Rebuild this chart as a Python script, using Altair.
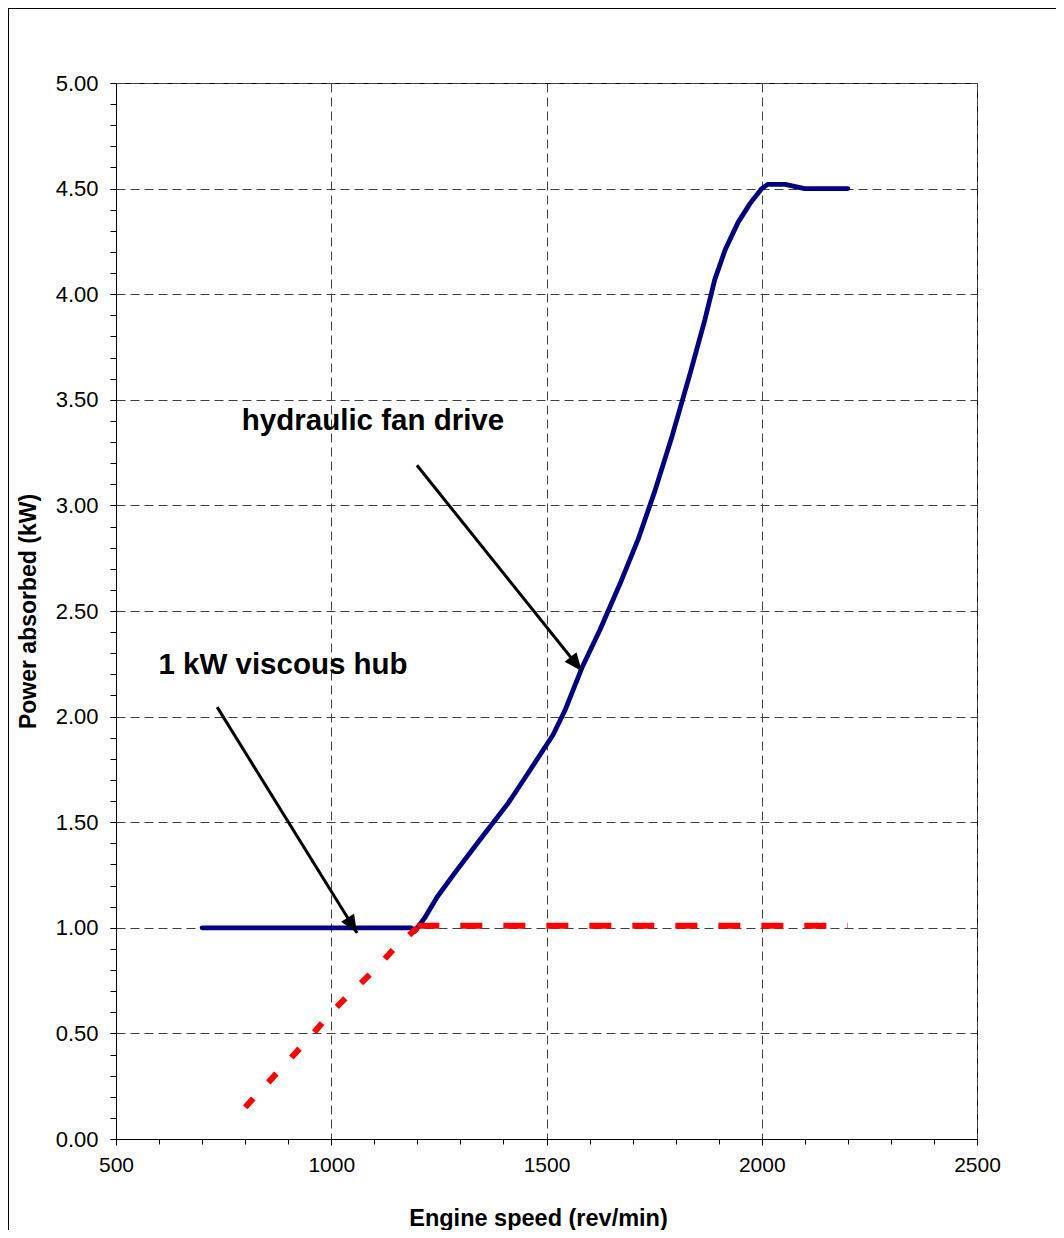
import math
import altair as alt
import pandas as pd

# ---------------- data ----------------
hyd_speed = [700, 800, 900, 1000, 1100, 1185, 1195, 1218, 1246, 1287, 1345, 1411, 1462,
             1515, 1543, 1582, 1624, 1671, 1713, 1752, 1792, 1833, 1868, 1891, 1915,
             1945, 1973, 2000, 2014, 2054, 2100, 2150, 2200]
hyd_power = [1.00, 1.00, 1.00, 1.00, 1.00, 1.00, 0.985, 1.05, 1.146, 1.26, 1.416, 1.59, 1.747,
             1.913, 2.03, 2.23, 2.41, 2.63, 2.84, 3.07, 3.33, 3.62, 3.88, 4.07, 4.21,
             4.34, 4.43, 4.50, 4.52, 4.52, 4.50, 4.50, 4.50]

visc_low_speed = [800, 850, 900, 950, 1000, 1050, 1100, 1150, 1200]
visc_low_power = [0.15, 0.26, 0.37, 0.48, 0.60, 0.70, 0.80, 0.91, 1.00]

visc_flat_speed = [1200, 1700, 2200]
visc_flat_power = [1.01, 1.01, 1.01]

x_major = [500, 1000, 1500, 2000, 2500]
x_minor = [500, 600, 700, 800, 900, 1000, 1100, 1200, 1300, 1400, 1500, 1600, 1700,
           1800, 1900, 2000, 2100, 2200, 2300, 2400, 2500]
y_major = [0.0, 0.5, 1.0, 1.5, 2.0, 2.5, 3.0, 3.5, 4.0, 4.5, 5.0]
y_minor = [round(i / 10, 1) for i in range(0, 51)]

label_text = ["hydraulic fan drive", "1 kW viscous hub"]
label_speed = [1097, 888]
label_power = [3.40, 2.244]

arrow_start_speed = [1199, 735]
arrow_start_power = [3.19, 2.045]
arrow_tip_speed = [1582, 1060]
arrow_tip_power = [2.216, 0.975]

# ---------------- layout ----------------
W, H = 861, 1056
X_DOM = [500, 2500]
Y_DOM = [0, 5]
FONT = "Liberation Sans"

hyd_df = pd.DataFrame({"speed": hyd_speed, "power": hyd_power})
low_df = pd.DataFrame({"speed": visc_low_speed, "power": visc_low_power})
flat_df = pd.DataFrame({"speed": visc_flat_speed, "power": visc_flat_power})
lab_df = pd.DataFrame({"text": label_text, "speed": label_speed, "power": label_power})

px_per_x = W / (X_DOM[1] - X_DOM[0])
px_per_y = H / (Y_DOM[1] - Y_DOM[0])
angles = []
for sx, sy, tx, ty in zip(arrow_start_speed, arrow_start_power, arrow_tip_speed, arrow_tip_power):
    dx = (tx - sx) * px_per_x
    dy = -(ty - sy) * px_per_y
    angles.append((math.degrees(math.atan2(dx, -dy)) + 360) % 360)
arr_df = pd.DataFrame({
    "sx": arrow_start_speed, "sy": arrow_start_power,
    "tx": arrow_tip_speed, "ty": arrow_tip_power, "ang": angles,
})

xs = alt.Scale(domain=X_DOM, nice=False, zero=False)
ys = alt.Scale(domain=Y_DOM, nice=False, zero=False)

x_major_axis = alt.Axis(values=x_major, format="d", grid=True, orient="bottom",
                        title="Engine speed (rev/min)", tickSize=6, labelPadding=9,
                        labelFlush=False, labelFontSize=21, titleFontSize=23.5,
                        titleX=422, titleY=79, titleAlign="center", titleBaseline="middle")
y_major_axis = alt.Axis(values=y_major, format=".2f", grid=True, orient="left",
                        title="Power absorbed (kW)", tickSize=6, labelPadding=12,
                        labelFlush=False, labelFontSize=22, titleFontSize=23,
                        titleX=-88, titleY=528, titleAngle=270, titleAlign="center",
                        titleBaseline="middle")
x_minor_axis = alt.Axis(values=x_minor, labels=False, grid=False, domain=False,
                        orient="bottom", tickSize=5, title=None)
y_minor_axis = alt.Axis(values=y_minor, labels=False, grid=False, domain=False,
                        orient="left", tickSize=6, title=None)

hyd_line = alt.Chart(hyd_df).mark_line(
    color="#000080", strokeWidth=4.8, strokeCap="round", strokeJoin="round"
).encode(
    x=alt.X("speed:Q", scale=xs, axis=x_major_axis),
    y=alt.Y("power:Q", scale=ys, axis=y_major_axis),
    order="speed:Q",
)

low_line = alt.Chart(low_df).mark_line(
    color="#FF0000", strokeWidth=6, strokeDash=[12, 22], strokeCap="butt"
).encode(
    x=alt.X("speed:Q", scale=xs, axis=x_minor_axis),
    y=alt.Y("power:Q", scale=ys, axis=y_minor_axis),
    order="speed:Q",
)

flat_line = alt.Chart(flat_df).mark_line(
    color="#FF0000", strokeWidth=6, strokeDash=[22, 21], strokeCap="butt"
).encode(
    x=alt.X("speed:Q", scale=xs, axis=None),
    y=alt.Y("power:Q", scale=ys, axis=None),
    order="speed:Q",
)

arrow_lines = alt.Chart(arr_df).mark_rule(color="black", strokeWidth=3).encode(
    x=alt.X("sx:Q", scale=xs, axis=None),
    y=alt.Y("sy:Q", scale=ys, axis=None),
    x2="tx:Q",
    y2="ty:Q",
)

arrow_heads = alt.Chart(arr_df).mark_point(
    shape="M0,0 L-0.42,1 L0.42,1 Z", filled=True, color="black", opacity=1,
    size=1300, strokeWidth=0
).encode(
    x=alt.X("tx:Q", scale=xs, axis=None),
    y=alt.Y("ty:Q", scale=ys, axis=None),
    angle=alt.Angle("ang:Q", scale=None),
)

labels = alt.Chart(lab_df).mark_text(
    font=FONT, fontSize=29.5, fontWeight="bold", color="black",
    align="center", baseline="middle"
).encode(
    x=alt.X("speed:Q", scale=xs, axis=None),
    y=alt.Y("power:Q", scale=ys, axis=None),
    text="text:N",
)

frame_left = alt.Chart(alt.Data(values=[{"a": 1}])).mark_rule(
    color="black", strokeWidth=1
).encode(x=alt.value(-107.5), y=alt.value(-75), y2=alt.value(H + 91))
frame_top = alt.Chart(alt.Data(values=[{"a": 1}])).mark_rule(
    color="black", strokeWidth=1
).encode(x=alt.value(-108), x2=alt.value(W + 90), y=alt.value(-74.5))

chart = alt.layer(
    hyd_line, low_line, flat_line, arrow_lines, arrow_heads, labels, frame_left, frame_top
).resolve_axis(
    x="independent", y="independent"
).properties(
    width=W, height=H,
    autosize=alt.AutoSizeParams(type="none"),
    padding={"left": 108, "top": 75, "right": 79, "bottom": 91},
    background="white",
).configure_view(
    stroke="black", strokeWidth=1
).configure_axis(
    domainColor="black", domainWidth=1, tickColor="black", tickWidth=1,
    labelFont=FONT, labelColor="black",
    titleFont=FONT, titleFontWeight="bold", titleColor="black",
    gridColor="#404040", gridDash=[9, 5], gridWidth=1,
)

chart.save("out.html", embed_options={"renderer": "svg", "actions": False})
